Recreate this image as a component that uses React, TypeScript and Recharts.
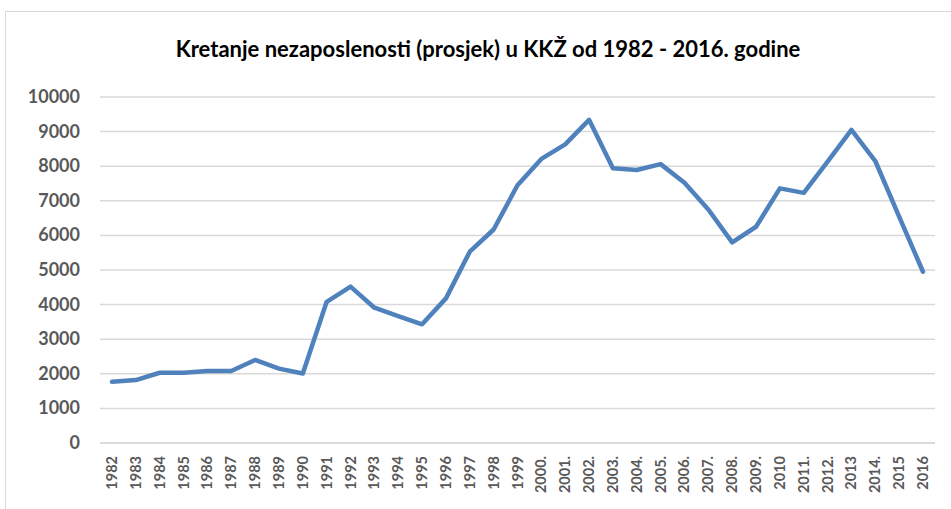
import React from "react";
import { LineChart, Line, XAxis, YAxis, CartesianGrid } from "recharts";

const years = [
  "1982", "1983", "1984", "1985", "1986", "1987", "1988", "1989", "1990", "1991",
  "1992", "1993", "1994", "1995", "1996", "1997", "1998", "1999", "2000.", "2001.",
  "2002.", "2003.", "2004.", "2005.", "2006.", "2007.", "2008.", "2009.", "2010", "2011.",
  "2012.", "2013", "2014.", "2015", "2016",
];
const unemployed = [
  1770, 1820, 2030, 2030, 2080, 2080, 2400, 2150, 2010, 4080,
  4520, 3910, 3670, 3430, 4180, 5530, 6170, 7450, 8210, 8630,
  9340, 7940, 7890, 8060, 7520, 6750, 5800, 6250, 7360, 7230,
  8130, 9050, 8150, 6540, 4950,
];
const yTicks = [0, 1000, 2000, 3000, 4000, 5000, 6000, 7000, 8000, 9000, 10000];

const data = years.map((y, i) => ({ year: y, value: unemployed[i] }));

const FONT = "Lato, 'Open Sans', sans-serif";

const XTick = (props: any) => {
  const { x, y, payload } = props;
  return (
    <text
      x={0}
      y={0}
      transform={`translate(${x + 5},${y + 5}) rotate(-90)`}
      textAnchor="end"
      fill="#595959"
      fontFamily={FONT}
      fontWeight={700}
      fontSize={14.5}
    >
      {payload.value}
    </text>
  );
};

const YTick = (props: any) => {
  const { x, y, payload } = props;
  return (
    <text
      x={x}
      y={y + 6}
      textAnchor="end"
      fill="#595959"
      fontFamily={FONT}
      fontWeight={700}
      fontSize={18}
    >
      {payload.value}
    </text>
  );
};

export default function App() {
  return (
    <div style={{ position: "absolute", left: 0, top: 0, width: 951, height: 509, background: "#fff" }}>
      <div
        style={{
          position: "absolute",
          left: 5,
          top: 11,
          width: 960,
          height: 510,
          border: "1px solid #d9d9d9",
          boxSizing: "border-box",
        }}
      />
      <div
        style={{
          position: "absolute",
          left: 0,
          top: 35,
          width: 976,
          textAlign: "center",
          fontFamily: FONT,
          fontWeight: 700,
          fontSize: 22,
          color: "#000",
          whiteSpace: "nowrap",
        }}
      >
        Kretanje nezaposlenosti (prosjek) u KKŽ od 1982 - 2016. godine
      </div>
      <div style={{ position: "absolute", left: 0, top: 0 }}>
        <LineChart
          width={951}
          height={509}
          data={data}
          margin={{ top: 97, right: 16, left: 0, bottom: 0 }}
        >
          <CartesianGrid vertical={false} stroke="#d9d9d9" strokeWidth={1.5} />
          <XAxis
            dataKey="year"
            interval={0}
            height={66}
            padding={{ left: 12, right: 12 }}
            axisLine={{ stroke: "#d9d9d9", strokeWidth: 1.5 }}
            tickLine={false}
            tick={<XTick />}
          />
          <YAxis
            domain={[0, 10000]}
            ticks={yTicks}
            width={100}
            axisLine={false}
            tickLine={false}
            tick={<YTick />}
            tickMargin={14}
          />
          <Line
            dataKey="value"
            stroke="#4f81bd"
            strokeWidth={4.5}
            dot={false}
            strokeLinejoin="round"
            strokeLinecap="round"
            isAnimationActive={false}
          />
        </LineChart>
      </div>
    </div>
  );
}
